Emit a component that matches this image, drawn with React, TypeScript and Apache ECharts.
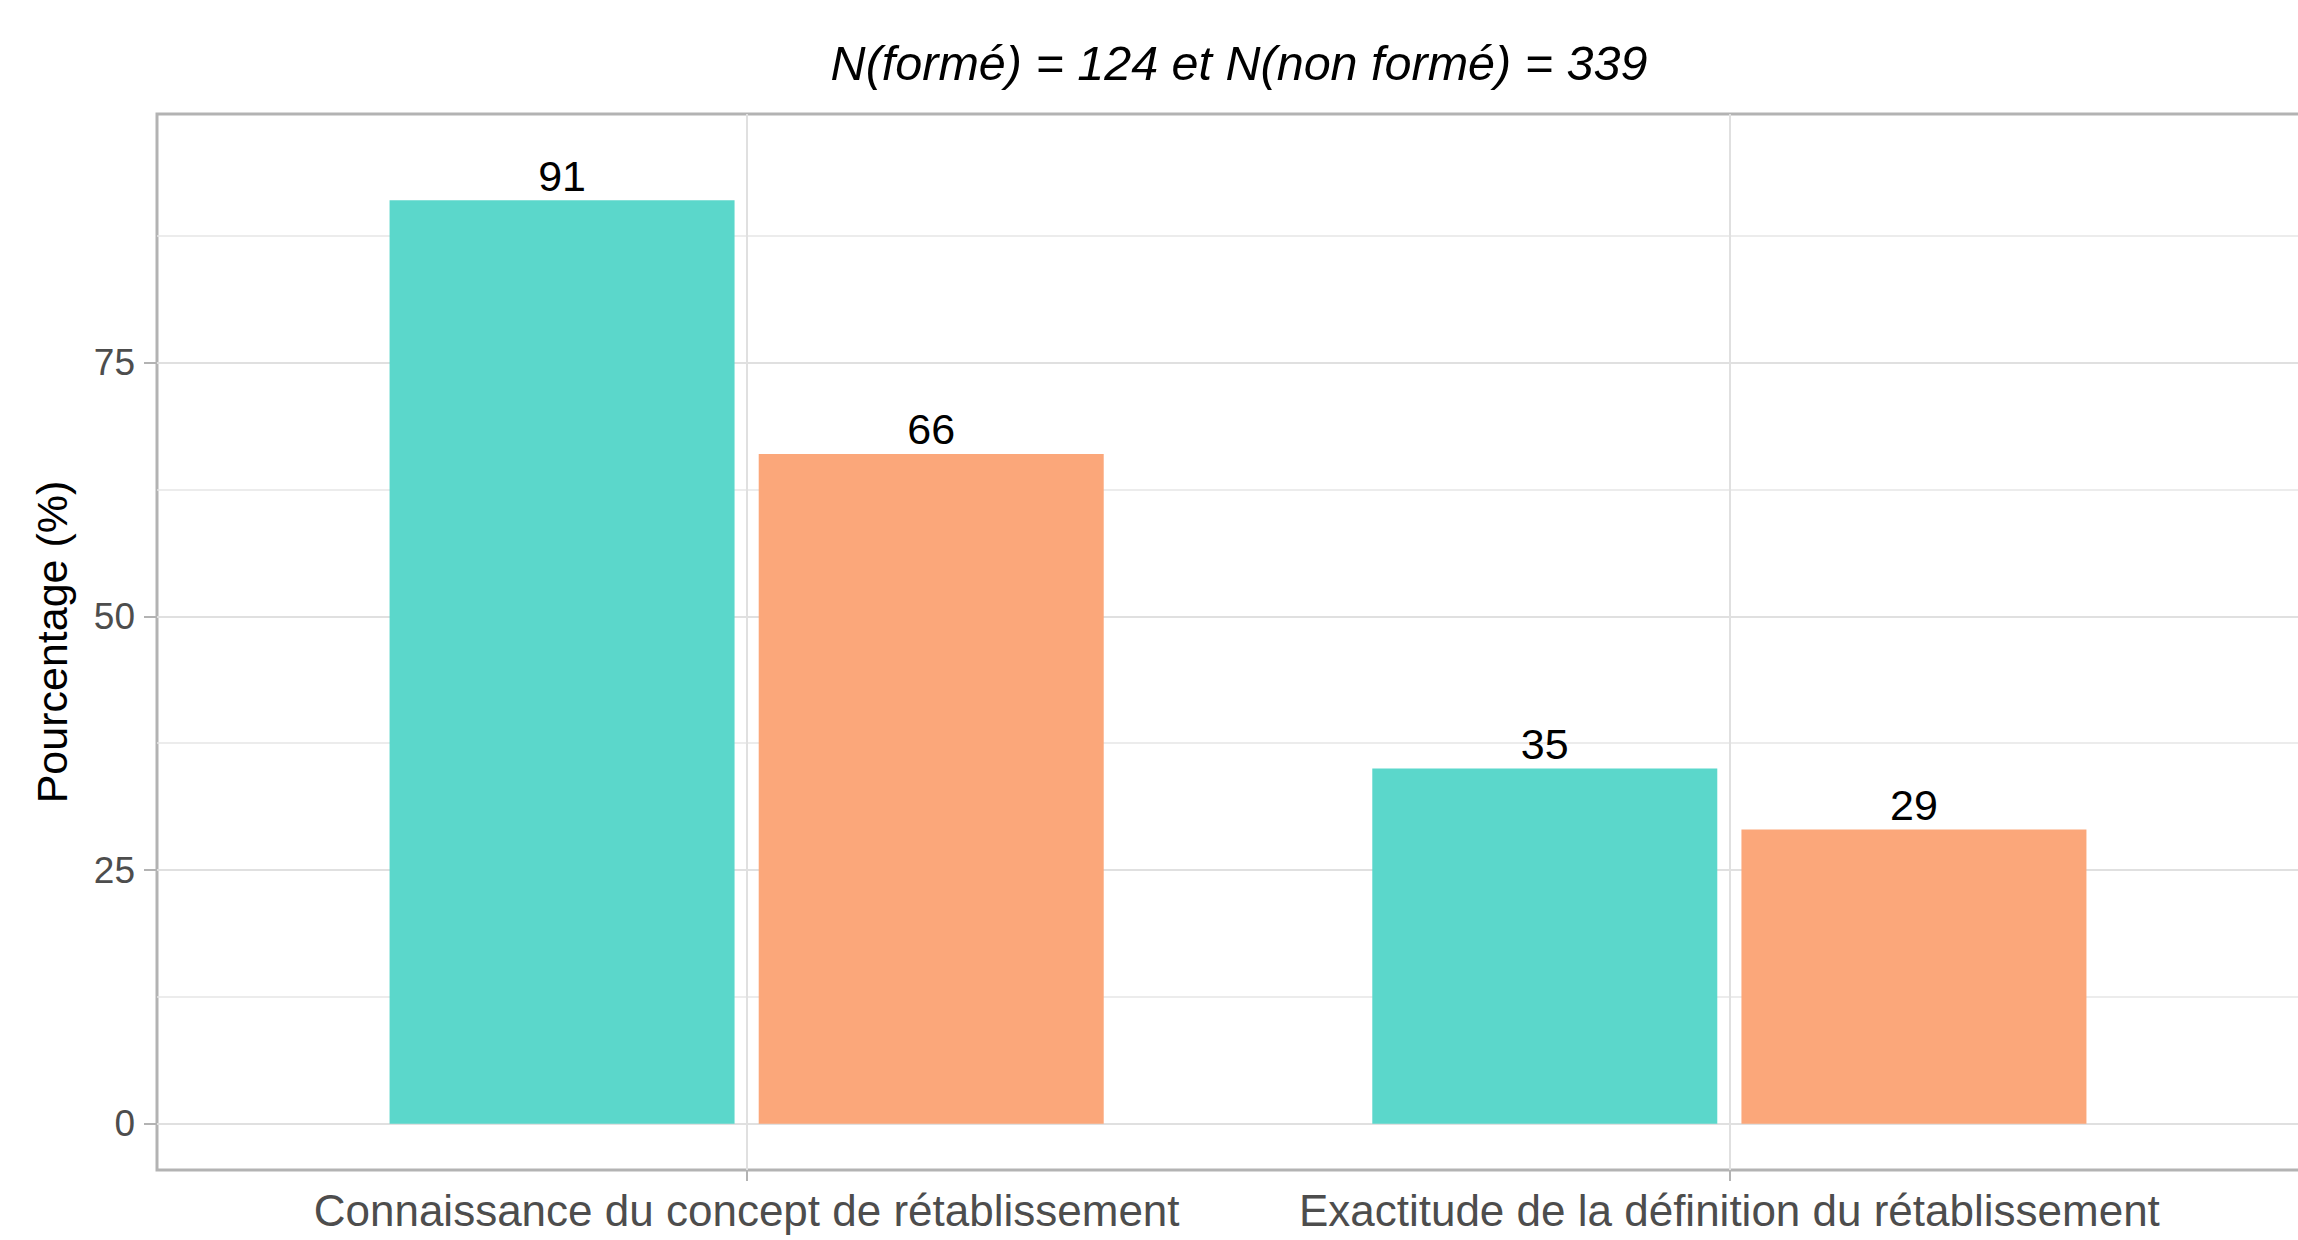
import React, { useEffect, useRef } from "react";
import * as echarts from "echarts";

const categories = [
  "Connaissance du concept de rétablissement",
  "Exactitude de la définition du rétablissement",
];
const categoryPositions = [1, 2];
const formeValues = [91, 35];
const nonFormeValues = [66, 29];
const yTicks = [0, 25, 50, 75];
const yMinorTicks = [12.5, 37.5, 62.5, 87.5];
const titleText = "N(formé) = 124 et N(non formé) = 339";
const yAxisTitle = "Pourcentage (%)";

const FONT = "'Liberation Sans', Arial, Helvetica, sans-serif";

export default function App() {
  const ref = useRef<HTMLDivElement>(null);

  useEffect(() => {
    document.body.style.margin = "0";
    const chart = echarts.init(ref.current!, null, { renderer: "svg" });
    const catLabel = (v: number) => {
      const i = categoryPositions.indexOf(v);
      return i >= 0 ? categories[i] : "";
    };
    const barLabel = {
      show: true,
      position: "top",
      distance: 3,
      color: "#000000",
      fontSize: 43,
      fontFamily: FONT,
      formatter: (p: any) => String(p.value[1]),
    };
    chart.setOption({
      animation: false,
      textStyle: { fontFamily: FONT },
      grid: {
        left: 157,
        top: 114,
        right: 11,
        bottom: 70,
        containLabel: false,
        show: true,
        borderColor: "#b3b3b3",
        borderWidth: 3,
        backgroundColor: "#ffffff",
      },
      graphic: [
        {
          type: "text",
          x: 1239,
          y: 63,
          style: {
            text: titleText,
            fontSize: 48.5,
            fontStyle: "italic",
            fontFamily: FONT,
            fill: "#000000",
            textAlign: "center",
            textVerticalAlign: "middle",
          },
        },
      ],
      xAxis: {
        type: "value",
        min: 0.4,
        max: 2.6,
        axisLine: { show: false, onZero: false },
        axisTick: {
          show: true,
          customValues: categoryPositions,
          length: 11,
          lineStyle: { color: "#b3b3b3", width: 2 },
        },
        axisLabel: {
          customValues: categoryPositions,
          formatter: catLabel,
          color: "#4d4d4d",
          fontSize: 44,
          fontFamily: FONT,
          margin: 18,
        },
        splitLine: { show: true, lineStyle: { color: "#e0e0e0", width: 2 } },
      },
      yAxis: [
        {
          type: "value",
          min: -4.55,
          max: 99.5,
          axisLine: { show: false },
          axisTick: {
            show: true,
            customValues: yTicks,
            length: 13,
            lineStyle: { color: "#b3b3b3", width: 2 },
          },
          axisLabel: {
            customValues: yTicks,
            color: "#4d4d4d",
            fontSize: 37,
            fontFamily: FONT,
            margin: 22,
          },
          splitLine: { show: true, lineStyle: { color: "#e0e0e0", width: 2 } },
          name: yAxisTitle,
          nameLocation: "middle",
          nameGap: 84,
          nameRotate: 90,
          nameTextStyle: { color: "#000000", fontSize: 43, fontFamily: FONT },
        },
        {
          type: "value",
          min: -4.55,
          max: 99.5,
          position: "left",
          axisLine: { show: false },
          axisTick: { show: false, customValues: yMinorTicks },
          axisLabel: { show: false, customValues: yMinorTicks },
          splitLine: { show: true, lineStyle: { color: "#e6e6e6", width: 1.5 } },
        },
      ],
      series: [
        {
          name: "formé",
          type: "bar",
          yAxisIndex: 0,
          data: categoryPositions.map((x, i) => [x, formeValues[i]]),
          barWidth: 345,
          barGap: "7%",
          itemStyle: { color: "#5bd7cb" },
          label: barLabel,
        },
        {
          name: "non formé",
          type: "bar",
          yAxisIndex: 0,
          data: categoryPositions.map((x, i) => [x, nonFormeValues[i]]),
          barWidth: 345,
          barGap: "7%",
          itemStyle: { color: "#fba77a" },
          label: barLabel,
        },
      ],
    });
    return () => chart.dispose();
  }, []);

  return (
    <div style={{ position: "absolute", left: 0, top: 0, width: 2298, height: 1240, overflow: "hidden", background: "#fff" }}>
      <div ref={ref} style={{ width: 2330, height: 1240 }} />
    </div>
  );
}
